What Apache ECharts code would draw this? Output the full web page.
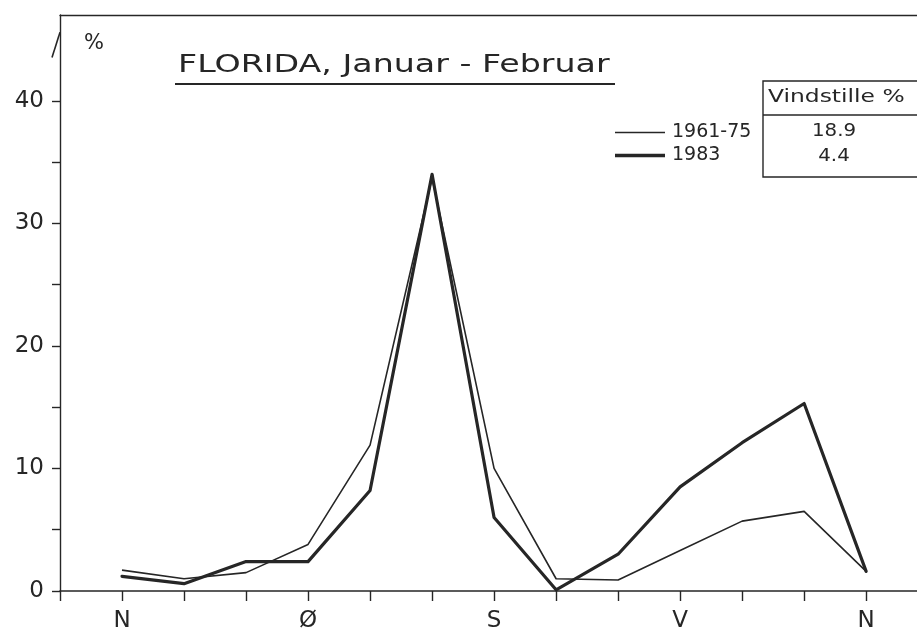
<!DOCTYPE html>
<html><head><meta charset="utf-8">
<script src="https://cdn.jsdelivr.net/npm/echarts@6/dist/echarts.min.js"></script>
<style>html,body{margin:0;padding:0;background:#fff}#c{width:917px;height:637px}</style>
</head><body><div id="c"></div>
<script>
// ---- data ----
const directionIndex = [1, 2, 3, 4, 5, 6, 7, 8, 9, 10, 11, 12, 13];
const series1961_75 = [1.7, 1.0, 1.5, 3.8, 11.9, 33.7, 10.0, 1.0, 0.9, 3.3, 5.7, 6.5, 1.6];
const series1983    = [1.2, 0.6, 2.4, 2.4, 8.2, 34.0, 6.0, 0.1, 3.0, 8.5, 12.1, 15.3, 1.6];
const seriesNames = ['1961-75', '1983'];
const calmValues = ['18.9', '4.4'];
const calmHeader = 'Vindstille %';
const xTickValues = [0, 1, 2, 3, 4, 5, 6, 7, 8, 9, 10, 11, 12, 13];
const xLabelValues = [1, 4, 7, 10, 13];
const xLabelTexts = ['N', 'Ø', 'S', 'V', 'N'];
const yTickValues = [0, 5, 10, 15, 20, 25, 30, 35, 40];
const yLabelValues = [0, 10, 20, 30, 40];
const titleText = 'FLORIDA, Januar - Februar';
const unitText = '%';

// ---- chart ----
const FONT = 'DejaVu Sans';
const INK = '#262626';
const chart = echarts.init(document.getElementById('c'), null, {renderer: 'canvas'});

const option = {
  backgroundColor: '#ffffff',
  animation: false,
  grid: {left: 60, right: 0, top: 15, bottom: 46, containLabel: false},
  xAxis: [{
    type: 'value', min: 0, max: 13.82,
    axisLine: {show: true, lineStyle: {color: INK, width: 1.6}},
    axisTick: {show: true, length: 10, customValues: xTickValues, lineStyle: {color: INK, width: 1.4}},
    axisLabel: {
      show: true, customValues: xLabelValues, margin: 19,
      formatter: v => xLabelTexts[xLabelValues.indexOf(v)] || '',
      fontFamily: FONT, fontSize: 23, color: INK
    },
    splitLine: {show: false}
  }, {
    type: 'value', min: 0, max: 13.82, position: 'top',
    axisLine: {show: true, lineStyle: {color: INK, width: 1.4}},
    axisTick: {show: false}, axisLabel: {show: false}, splitLine: {show: false}
  }],
  yAxis: {
    type: 'value', min: 0, max: 47,
    axisLine: {show: true, lineStyle: {color: INK, width: 1.4}},
    axisTick: {show: true, length: 8, customValues: yTickValues, lineStyle: {color: INK, width: 1.4}},
    axisLabel: {
      show: true, customValues: yLabelValues, margin: 16,
      fontFamily: FONT, fontSize: 23, color: INK
    },
    splitLine: {show: false}
  },
  legend: {
    orient: 'vertical', left: 610, top: 118, itemWidth: 50, itemHeight: 14, itemGap: 4,
    textStyle: {fontFamily: FONT, fontSize: 19, color: INK, padding: [0, 0, 0, 2]},
    data: [
      {name: seriesNames[0], icon: 'path://M0,0L50,0L50,1.6L0,1.6Z'},
      {name: seriesNames[1], icon: 'path://M0,0L50,0L50,3.4L0,3.4Z'}
    ]
  },
  series: [{
    name: seriesNames[0], type: 'line', showSymbol: false, symbol: 'none',
    data: directionIndex.map((x, i) => [x, series1961_75[i]]),
    lineStyle: {color: INK, width: 1.6, join: 'round'}, itemStyle: {color: INK}
  }, {
    name: seriesNames[1], type: 'line', showSymbol: false, symbol: 'none',
    data: directionIndex.map((x, i) => [x, series1983[i]]),
    lineStyle: {color: INK, width: 3.2, join: 'round', cap: 'round'}, itemStyle: {color: INK}
  }]
};
chart.setOption(option);

// decorations anchored to the axes
const p = (x, y) => chart.convertToPixel({gridIndex: 0}, [x, y]);
const tip = p(0, 45.6), barb = p(0, 43.2);
chart.setOption({
  graphic: [
    {type: 'polyline', shape: {points: [[tip[0], tip[1]], [tip[0] - 8, barb[1] - 4]]}, style: {stroke: INK, lineWidth: 1.6, fill: null}},
    {type: 'text', x: 84, y: 33, style: {text: unitText, fontFamily: FONT, fontSize: 21, fill: INK}},
    {type: 'text', x: 178, y: 53, scaleX: 1.33, style: {text: titleText, fontFamily: FONT, fontSize: 25, fill: INK}},
    {type: 'line', shape: {x1: 175, y1: 84, x2: 615, y2: 84}, style: {stroke: INK, lineWidth: 2}},
    {type: 'rect', shape: {x: 763, y: 81, width: 170, height: 96}, style: {stroke: INK, lineWidth: 1.4, fill: null}},
    {type: 'line', shape: {x1: 763, y1: 115, x2: 917, y2: 115}, style: {stroke: INK, lineWidth: 1.4}},
    {type: 'text', x: 768, y: 88, scaleX: 1.3, style: {text: calmHeader, fontFamily: FONT, fontSize: 18, fill: INK}},
    {type: 'text', x: 834, y: 131, scaleX: 1.1, style: {text: calmValues[0], fontFamily: FONT, fontSize: 18, fill: INK, align: 'center', verticalAlign: 'middle'}},
    {type: 'text', x: 834, y: 156, scaleX: 1.1, style: {text: calmValues[1], fontFamily: FONT, fontSize: 18, fill: INK, align: 'center', verticalAlign: 'middle'}}
  ]
});
</script></body></html>
